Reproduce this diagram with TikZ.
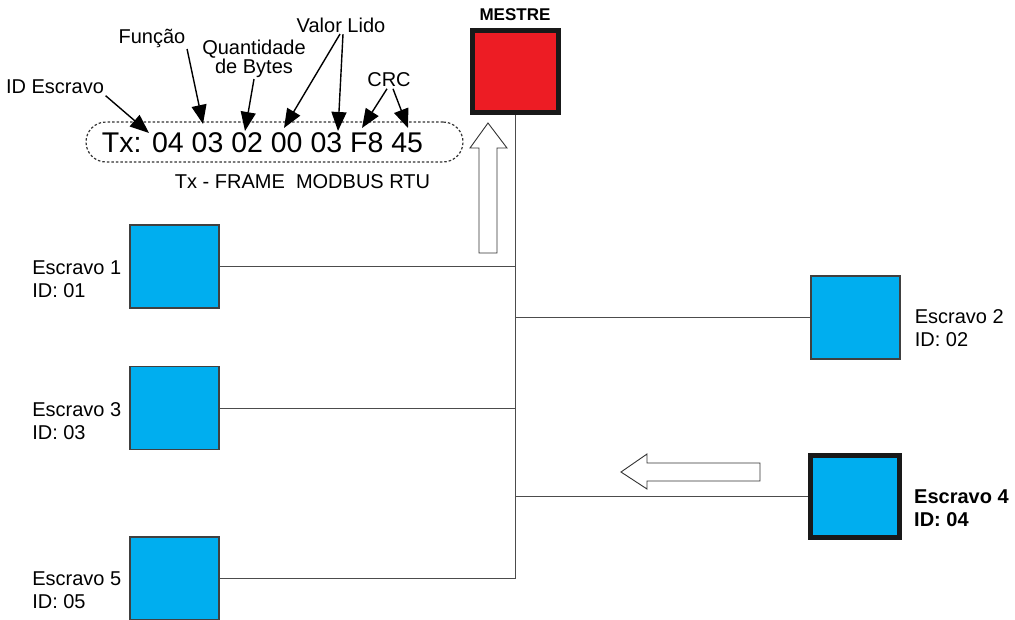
\documentclass[tikz,border=0pt]{standalone}
\usepackage{fontspec}
\setmainfont{Liberation Sans}
\usepackage{tikz}
\usetikzlibrary{arrows.meta}

\definecolor{azulescravo}{RGB}{0,174,239}
\definecolor{vermelhomestre}{RGB}{237,28,36}

\tikzset{
  escravo/.style={draw=black!75, fill=azulescravo, line width=1.2pt, minimum width=89pt, minimum height=83pt, inner sep=0pt},
  selecionado/.style={draw=black!90, line width=5pt, minimum width=89pt, minimum height=82pt},
  rotulo/.style={font=\fontsize{20}{23}\selectfont, align=left, inner sep=0pt},
  nota/.style={font=\fontsize{20}{19}\selectfont, align=center, inner sep=1.5pt},
  barra/.style={draw=black!70, line width=1pt},
  seta/.style={-{Triangle[length=19pt,width=15pt]}, line width=1.4pt},
  vazada/.style={draw=black!80, line width=0.9pt, fill=white},
}

\begin{document}
\begin{tikzpicture}[x=1pt,y=-1pt]
    \useasboundingbox (0,0) rectangle (1015,619);
    % mestre e escravos
    \node[escravo, selecionado, fill=vermelhomestre, minimum width=86pt] (mestre) at (515,71.5) {};
    \node[font=\fontsize{17}{20}\selectfont\bfseries] (tmestre) at (515,15) {MESTRE};
    \node[escravo] (e1) at (174.5,266.5) {};
    \node[escravo] (e3) at (174.5,408) {};
    \node[escravo] (e5) at (174.5,578.5) {};
    \node[escravo] (e2) at (855.5,317.5) {};
    \node[escravo, selecionado] (e4) at (855,496.5) {};

    \node[rotulo, anchor=east] (t1) at ([xshift=-8pt,yshift=-13pt]e1.west) {Escravo 1\\ID: 01};
    \node[rotulo, anchor=east] (t3) at ([xshift=-8pt,yshift=-13pt]e3.west) {Escravo 3\\ID: 03};
    \node[rotulo, anchor=east] (t5) at ([xshift=-8pt,yshift=-12pt]e5.west) {Escravo 5\\ID: 05};
    \node[rotulo, anchor=west] (t2) at ([xshift=14pt,yshift=-11pt]e2.east) {Escravo 2\\ID: 02};
    \node[rotulo, anchor=west, font=\fontsize{20}{23}\selectfont\bfseries] (t4) at ([xshift=12pt,yshift=-12pt]e4.east) {Escravo 4\\ID: 04};

    % barramento
    \draw[barra] (mestre.south) -- (mestre.south |- e5.east);
    \foreach \s in {e1, e3, e5}{\draw[barra] (\s.east) -- (\s.east -| mestre.south);}
    \foreach \s in {e2, e4}{\draw[barra] (\s.west) -- (\s.west -| mestre.south);}

    % setas vazadas
    \draw[vazada] (479,253) -- (479,148) -- (470,148) -- (488,123) -- (507,148) -- (497,148) -- (497,253) -- cycle;
    \draw[vazada] (760,463) -- (647,463) -- (647,454) -- (621,472) -- (647,489) -- (647,481) -- (760,481) -- cycle;

    % quadro Tx
    \node[draw=black!80, dashed, dash pattern=on 2.5pt off 2pt, line width=1.2pt, rounded corners=20pt, minimum width=377pt, minimum height=40pt] (quadro) at (274.5,142) {};
    \node[font=\fontsize{28.5}{30}\selectfont, inner sep=0pt] (tx) at (262.5,143) {Tx: 04 03 02 00 03 F8 45};
    \node[nota] (frame) at (302.5,182) {Tx - FRAME~~MODBUS RTU};

    \node[nota] (idesc) at (55,87) {ID Escravo};
    \node[nota] (funcao) at (152,38) {Função};
    \node[nota] (qtd) at (254,58.5) {Quantidade\\de Bytes};
    \node[nota] (valor) at (341,25) {Valor Lido};
    \node[nota] (crc) at (389,80) {CRC};

    \coordinate (b1) at (149,133);
    \coordinate (b2) at (203,124);
    \coordinate (b3) at (245,131);
    \coordinate (b4) at (284,128);
    \coordinate (b5) at (338,131);
    \coordinate (b6) at (362,128);
    \coordinate (b7) at (408,128);
    \draw[seta] (idesc.south east) -- (b1);
    \draw[seta] (funcao.south east) -- (b2);
    \draw[seta] (qtd.south) -- (b3);
    \draw[seta] ([xshift=-1pt]valor.south) -- (b4);
    \draw[seta] ([xshift=2pt]valor.south) -- (b5);
    \draw[seta] ([xshift=-2pt]crc.south) -- (b6);
    \draw[seta] ([xshift=4pt]crc.south) -- (b7);
\end{tikzpicture}
\end{document}
